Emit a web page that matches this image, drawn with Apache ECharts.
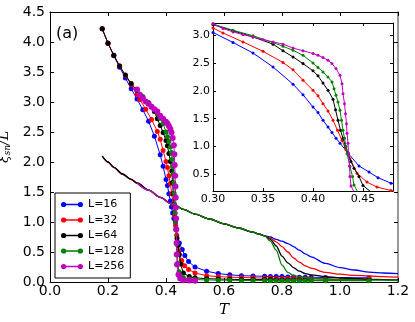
<!DOCTYPE html>
<html>
<head>
<meta charset="utf-8">
<script src="https://cdn.jsdelivr.net/npm/echarts@6/dist/echarts.min.js"></script>
<style>
  html, body { margin: 0; padding: 0; background: #fff; }
  #chart { width: 415px; height: 322px; }
</style>
</head>
<body>
<div id="chart"></div>
<script>
const sizes = ['L=16', 'L=32', 'L=64', 'L=128', 'L=256'];
const colors = ['#0000ff', '#ff0000', '#000000', '#008000', '#bf00bf'];

// simulation points [T, xi/L]
const pointsL16 = [[0.18,4.22],[0.20,3.98],[0.22,3.77],[0.24,3.58],[0.26,3.40],[0.28,3.22],[0.30,3.05],[0.32,2.87],[0.34,2.68],[0.36,2.43],[0.38,2.12],[0.39,1.93],[0.40,1.71],[0.405,1.61],[0.41,1.47],[0.415,1.35],[0.419,1.25],[0.423,1.15],[0.427,1.06],[0.435,0.88],[0.446,0.65],[0.456,0.54],[0.465,0.44],[0.478,0.34],[0.50,0.25],[0.54,0.18],[0.58,0.14],[0.62,0.12],[0.66,0.105],[0.70,0.10],[0.74,0.095],[0.76,0.09],[0.78,0.09],[0.80,0.09],[0.82,0.085],[0.84,0.085],[0.86,0.08],[0.88,0.08],[0.90,0.08],[0.95,0.075],[1.10,0.07]];
const pointsL32 = [[0.18,4.22],[0.20,3.98],[0.22,3.78],[0.24,3.60],[0.26,3.44],[0.28,3.29],[0.30,3.13],[0.31,3.04],[0.33,2.88],[0.35,2.71],[0.37,2.51],[0.38,2.38],[0.39,2.19],[0.40,2.01],[0.405,1.91],[0.41,1.77],[0.415,1.64],[0.42,1.47],[0.4245,1.29],[0.429,1.11],[0.433,0.94],[0.437,0.78],[0.444,0.52],[0.454,0.36],[0.464,0.27],[0.478,0.21],[0.50,0.15],[0.54,0.105],[0.58,0.09],[0.62,0.08],[0.66,0.075],[0.70,0.07],[0.74,0.065],[0.76,0.065],[0.78,0.06],[0.80,0.06],[0.82,0.06],[0.84,0.06],[0.86,0.055],[0.88,0.055],[0.90,0.055],[0.95,0.05],[1.10,0.05]];
const pointsL64 = [[0.18,4.22],[0.20,3.98],[0.22,3.78],[0.24,3.60],[0.26,3.45],[0.28,3.31],[0.30,3.19],[0.32,3.08],[0.34,2.97],[0.36,2.84],[0.37,2.72],[0.38,2.61],[0.39,2.49],[0.40,2.36],[0.405,2.27],[0.41,2.14],[0.415,2.01],[0.42,1.85],[0.4225,1.66],[0.425,1.47],[0.4275,1.29],[0.43,1.15],[0.4325,1.0],[0.435,0.87],[0.438,0.73],[0.441,0.61],[0.446,0.46],[0.45,0.30],[0.46,0.15],[0.48,0.09],[0.50,0.07],[0.54,0.055],[0.58,0.05],[0.62,0.045],[0.66,0.04],[0.70,0.04],[0.74,0.04],[0.76,0.04],[0.78,0.035],[0.80,0.035],[0.82,0.035],[0.84,0.035],[0.86,0.035],[0.88,0.035],[0.90,0.03],[0.95,0.03],[1.10,0.03]];
const pointsL128 = [[0.30,3.20],[0.32,3.09],[0.34,2.99],[0.36,2.87],[0.37,2.80],[0.38,2.73],[0.39,2.64],[0.40,2.50],[0.405,2.42],[0.41,2.34],[0.415,2.25],[0.419,2.16],[0.421,2.04],[0.423,1.92],[0.425,1.80],[0.427,1.65],[0.4285,1.47],[0.430,1.29],[0.4315,1.15],[0.433,1.0],[0.434,0.87],[0.437,0.64],[0.4395,0.46],[0.441,0.31],[0.445,0.17],[0.45,0.11],[0.46,0.07],[0.48,0.05],[0.50,0.04],[0.54,0.035],[0.58,0.03],[0.62,0.03],[0.66,0.025],[0.70,0.025],[0.74,0.025],[0.76,0.02],[0.78,0.02],[0.80,0.02],[0.82,0.02],[0.84,0.02],[0.86,0.02],[0.88,0.02],[0.90,0.02],[0.95,0.02],[1.10,0.02]];
const pointsL256 = [[0.30,3.21],[0.31,3.12],[0.32,3.06],[0.33,3.01],[0.34,2.97],[0.35,2.92],[0.36,2.88],[0.37,2.84],[0.38,2.77],[0.39,2.72],[0.40,2.67],[0.405,2.64],[0.41,2.60],[0.415,2.55],[0.419,2.49],[0.423,2.40],[0.427,2.28],[0.429,2.13],[0.430,1.95],[0.4315,1.77],[0.4325,1.59],[0.4335,1.41],[0.434,1.24],[0.435,1.06],[0.4355,0.88],[0.4365,0.65],[0.437,0.46],[0.438,0.29],[0.443,0.12],[0.449,0.06],[0.46,0.03],[0.48,0.025],[0.50,0.02]];

// smooth curves (no markers)
const smoothT = [0.18,0.20,0.22,0.25,0.28,0.30,0.34,0.38,0.42,0.43,0.46,0.50,0.55,0.60,0.65,0.70,0.72,0.74,0.76,0.78,0.80,0.82,0.84,0.86,0.88,0.90,0.95,1.00,1.05,1.10,1.15,1.20];
const smoothShared = [2.10,2.00,1.91,1.80,1.71,1.65,1.53,1.41,1.30,1.28,1.21,1.13,1.05,0.97,0.90,0.83,0.80,0.77];
const tailL16 = [0.75,0.71,0.68,0.64,0.59,0.53,0.47,0.42,0.31,0.24,0.20,0.165,0.15,0.14];
const tailL32 = [0.73,0.67,0.59,0.50,0.40,0.33,0.27,0.23,0.16,0.13,0.11,0.10,0.09,0.08];
const tailL64 = [0.71,0.60,0.43,0.32,0.24,0.18,0.14,0.12,0.09,0.07,0.055,0.045,0.04,0.035];
const tailL128 = [0.68,0.53,0.28,0.16,0.11,0.09,0.075,0.065,0.05,0.04,0.035,0.03,0.03,0.025];

const insetTicksX = [0.30, 0.35, 0.40, 0.45];
const insetTicksY = [0.5, 1.0, 1.5, 2.0, 2.5, 3.0];

const points = [pointsL16, pointsL32, pointsL64, pointsL128, pointsL256];
const tails = [tailL16, tailL32, tailL64, tailL128];

function smoothData(i) {
  const vals = i < 4 ? smoothShared.concat(tails[i]) : smoothShared;
  const out = [];
  smoothT.forEach((t, k) => {
    if (k >= vals.length) return;
    if (i >= 3 && k < 5) return;       // L=128, 256 start at 0.30
    if (i === 4 && k > 9) return;      // L=256 stops at 0.43
    out.push([t, vals[k]]);
  });
  return out;
}

const font = 'DejaVu Sans';
const black = '#000';

function axisBase(extra) {
  return Object.assign({
    type: 'value',
    splitLine: { show: false },
    axisLine: { show: true, onZero: false, lineStyle: { color: black, width: 1 } },
    axisTick: { show: true, inside: true, length: 4, lineStyle: { color: black } },
    axisLabel: { show: false }
  }, extra);
}

const legendIcon = 'path://M0.5,3A2.5,2.5,0,1,1,5.5,3A2.5,2.5,0,1,1,0.5,3Z M16.5,3A2.5,2.5,0,1,1,21.5,3A2.5,2.5,0,1,1,16.5,3Z M3,2.4H19V3.6H3Z';

const series = [];
sizes.forEach((name, i) => {
  series.push({
    name, type: 'line', xAxisIndex: 0, yAxisIndex: 0,
    data: points[i], symbol: 'circle', symbolSize: i === 4 ? 6 : 5,
    lineStyle: { color: colors[i], width: 1 }, itemStyle: { color: colors[i] },
    animation: false, z: 2 + i
  });
  series.push({
    name, type: 'line', xAxisIndex: 0, yAxisIndex: 0,
    data: smoothData(i), showSymbol: false, smooth: 0.3, smoothMonotone: 'x',
    lineStyle: { color: colors[i], width: 1.3 }, itemStyle: { color: colors[i] },
    animation: false, z: 2 + i
  });
  series.push({
    name, type: 'line', xAxisIndex: 2, yAxisIndex: 2,
    data: points[i], symbol: 'circle', symbolSize: 3,
    lineStyle: { color: colors[i], width: 1 }, itemStyle: { color: colors[i] },
    animation: false, z: 2 + i
  });
});

const chart = echarts.init(document.getElementById('chart'));
chart.setOption({
  animation: false,
  backgroundColor: '#fff',
  textStyle: { fontFamily: font, color: black },
  grid: [
    { left: 50, top: 12, width: 348, height: 270, containLabel: false, outerBoundsMode: 'none' },
    { left: 213, top: 23, width: 180, height: 168, show: true, backgroundColor: '#fff', borderWidth: 0,
      containLabel: false, outerBoundsMode: 'none' }
  ],
  graphic: [{
    type: 'text', left: 56, top: 26,
    style: { text: '(a)', fontSize: 16, fontFamily: font, fill: black }
  }],
  legend: {
    orient: 'vertical', left: 55, top: 193,
    padding: [5, 6, 5, 6], itemGap: 2.5, itemWidth: 22, itemHeight: 6,
    borderColor: black, borderWidth: 1, backgroundColor: '#fff',
    textStyle: { fontSize: 11, fontFamily: font, color: black, lineHeight: 13 },
    data: sizes.map(n => ({ name: n, icon: legendIcon }))
  },
  xAxis: [
    axisBase({
      gridIndex: 0, position: 'bottom', min: 0, max: 1.2, interval: 0.2,
      axisLabel: { show: true, fontSize: 14, color: black, margin: 2, formatter: v => v.toFixed(1) },
      name: 'T', nameLocation: 'middle', nameGap: 21,
      nameTextStyle: { fontFamily: 'DejaVu Serif', fontStyle: 'italic', fontSize: 15, color: black }
    }),
    axisBase({ gridIndex: 0, position: 'top', min: 0, max: 1.2, interval: 0.2 }),
    axisBase({
      gridIndex: 1, position: 'bottom', min: 0.30, max: 0.48,
      axisTick: { show: true, inside: true, length: 3, lineStyle: { color: black }, customValues: insetTicksX },
      axisLabel: { show: true, fontSize: 11, color: black, margin: 3, customValues: insetTicksX, formatter: v => v.toFixed(2) }
    }),
    axisBase({
      gridIndex: 1, position: 'top', min: 0.30, max: 0.48,
      axisTick: { show: true, inside: true, length: 3, lineStyle: { color: black }, customValues: insetTicksX }
    })
  ],
  yAxis: [
    axisBase({
      gridIndex: 0, position: 'left', min: 0, max: 4.5, interval: 0.5,
      axisLabel: { show: true, fontSize: 14, color: black, margin: 5, formatter: v => v.toFixed(1) },
      name: '{a|ξ}{b|sn}{a|/L}', nameLocation: 'middle', nameGap: 30,
      nameTextStyle: {
        rich: {
          a: { fontFamily: 'DejaVu Serif', fontStyle: 'italic', fontSize: 14, color: black },
          b: { fontFamily: 'DejaVu Serif', fontStyle: 'italic', fontSize: 9, color: black, padding: [6, 0, 0, 0] }
        }
      }
    }),
    axisBase({
      gridIndex: 0, position: 'right', min: 0, max: 4.5, interval: 0.5,
      axisLine: { show: true, onZero: false, lineStyle: { color: '#777', width: 1.5 } }
    }),
    axisBase({
      gridIndex: 1, position: 'left', min: 0.2, max: 3.22,
      axisTick: { show: true, inside: true, length: 3, lineStyle: { color: black }, customValues: insetTicksY },
      axisLabel: { show: true, fontSize: 11, color: black, margin: 3, customValues: insetTicksY, formatter: v => v.toFixed(1) }
    }),
    axisBase({
      gridIndex: 1, position: 'right', min: 0.2, max: 3.22,
      axisTick: { show: true, inside: true, length: 3, lineStyle: { color: black }, customValues: insetTicksY }
    })
  ],
  series
});
</script>
</body>
</html>
